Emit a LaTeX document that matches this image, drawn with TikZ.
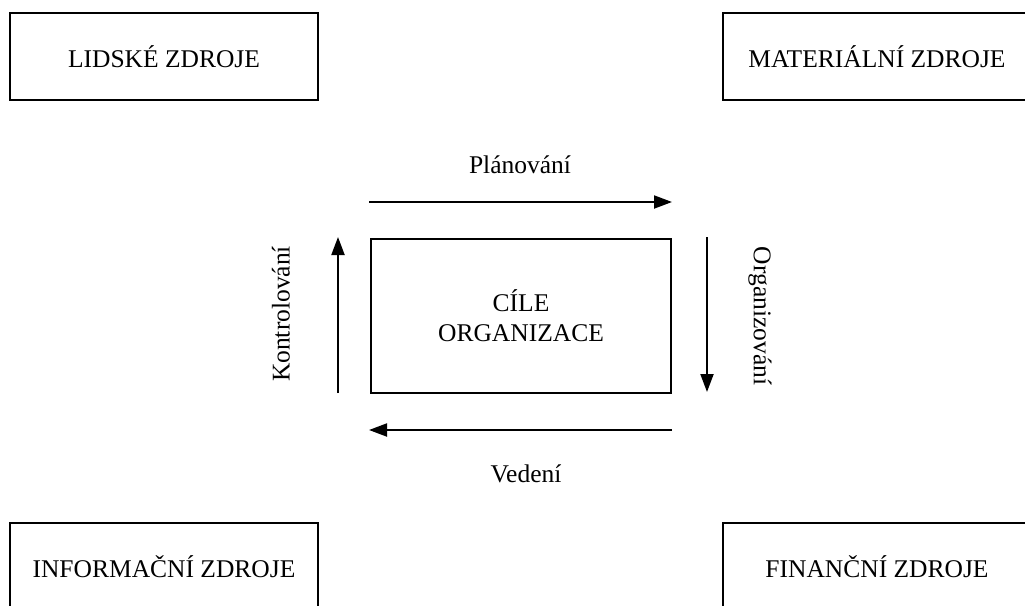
\documentclass[tikz,border=0pt]{standalone}
\usepackage{fontspec}
\setmainfont{Liberation Serif}
\usetikzlibrary{arrows.meta}
\begin{document}
\begin{tikzpicture}[x=1pt,y=-1pt,
  res/.style={draw,line width=1.6pt,minimum width=308pt,minimum height=87pt,inner sep=0pt,font=\fontsize{25.5}{30}\selectfont},
  goal/.style={draw,line width=1.6pt,minimum width=300pt,minimum height=154pt,inner sep=0pt,align=center,font=\fontsize{25.5}{30}\selectfont},
  lbl/.style={inner sep=0pt,font=\fontsize{25.5}{30}\selectfont},
  flow/.style={line width=2pt,-{Triangle[length=18pt,width=13pt]}}]
\useasboundingbox (0,0) rectangle (1025,605);
\clip (0,0) rectangle (1025,605);
\node[res] (lz) at (164,56.5) {LIDSKÉ ZDROJE};
\node[res] (mz) at (877,56.5) {MATERIÁLNÍ ZDROJE};
\node[res] (iz) at (164,566.5) {INFORMAČNÍ ZDROJE};
\node[res] (fz) at (877,566.5) {FINANČNÍ ZDROJE};
\node[goal] (co) at (521,316) {CÍLE\\ORGANIZACE};
\coordinate (p1) at (369,202);
\coordinate (p2) at (672,202);
\coordinate (o1) at (707,237);
\coordinate (o2) at (707,392);
\coordinate (v1) at (672,430);
\coordinate (v2) at (369,430);
\coordinate (k1) at (338,393);
\coordinate (k2) at (338,237);
\draw[flow] (p1) -- (p2);
\draw[flow] (o1) -- (o2);
\draw[flow] (v1) -- (v2);
\draw[flow] (k1) -- (k2);
\node[lbl] (pl) at (520,165) {Plánování};
\node[lbl] (ve) at (526,474) {Vedení};
\node[lbl,rotate=90] (ko) at (281,314) {Kontrolování};
\node[lbl,rotate=-90] (or) at (760,316) {Organizování};
\end{tikzpicture}
\end{document}
